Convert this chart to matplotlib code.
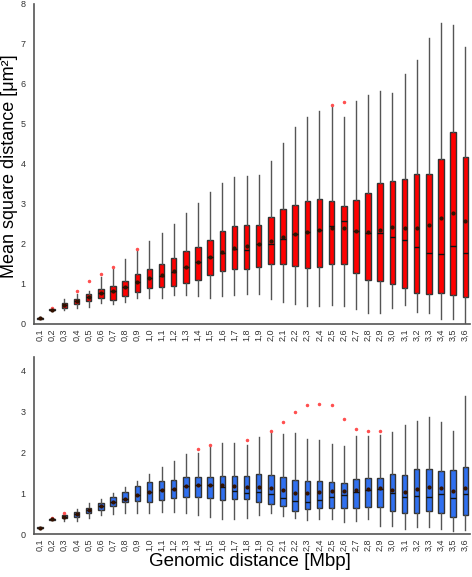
import matplotlib
matplotlib.use("Agg")
import matplotlib.pyplot as plt
import numpy as np

plt.rcParams['font.family'] = ['Liberation Sans', 'DejaVu Sans']

labels = ['0,1', '0,2', '0,3', '0,4', '0,5', '0,6', '0,7', '0,8', '0,9', '1,0',
          '1,1', '1,2', '1,3', '1,4', '1,5', '1,6', '1,7', '1,8', '1,9', '2,0',
          '2,1', '2,2', '2,3', '2,4', '2,5', '2,6', '2,7', '2,8', '2,9', '3,0',
          '3,1', '3,2', '3,3', '3,4', '3,5', '3,6']

# top panel (red)
top_lo  = [0.12, 0.33, 0.35, 0.39, 0.43, 0.53, 0.50, 0.54, 0.64, 0.64,
           0.66, 0.72, 0.72, 0.70, 0.66, 0.70, 0.72, 0.74, 0.74, 0.62,
           0.56, 0.49, 0.45, 0.45, 0.47, 0.45, 0.37, 0.28, 0.27, 0.39,
           0.47, 0.31, 0.27, 0.13, 0.12, 0.00]
top_q1  = [0.13, 0.34, 0.41, 0.50, 0.58, 0.64, 0.59, 0.71, 0.81, 0.89,
           0.92, 0.95, 1.02, 1.10, 1.22, 1.33, 1.38, 1.38, 1.42, 1.50,
           1.51, 1.45, 1.41, 1.43, 1.51, 1.49, 1.27, 1.10, 1.07, 1.01,
           0.89, 0.77, 0.74, 0.78, 0.72, 0.67]
top_med = [0.15, 0.35, 0.47, 0.57, 0.68, 0.77, 0.82, 0.93, 1.05, 1.14,
           1.19, 1.31, 1.42, 1.55, 1.67, 1.78, 1.87, 1.85, 2.00, 1.99,
           2.13, 2.25, 2.31, 2.35, 2.46, 2.58, 2.33, 2.28, 2.28, 2.17,
           2.09, 1.92, 1.77, 1.74, 1.96, 1.77]
top_q3  = [0.16, 0.37, 0.53, 0.63, 0.74, 0.87, 0.96, 1.08, 1.24, 1.38,
           1.49, 1.64, 1.83, 1.93, 2.10, 2.33, 2.46, 2.47, 2.47, 2.67,
           2.88, 2.98, 3.08, 3.13, 3.08, 2.96, 3.10, 3.28, 3.53, 3.58,
           3.63, 3.74, 3.74, 4.12, 4.81, 4.17]
top_hi  = [0.17, 0.38, 0.63, 0.74, 0.83, 1.18, 1.38, 1.63, 1.83, 2.08,
           2.27, 2.49, 2.77, 3.02, 3.29, 3.53, 3.67, 3.70, 3.73, 4.08,
           4.53, 4.93, 5.17, 5.33, 5.45, 5.17, 5.58, 5.72, 5.82, 5.77,
           6.25, 6.60, 7.16, 7.52, 7.48, 6.93]
top_mean = [0.15, 0.35, 0.47, 0.57, 0.68, 0.78, 0.83, 0.93, 1.05, 1.15,
            1.22, 1.33, 1.43, 1.56, 1.68, 1.79, 1.89, 1.95, 2.00, 2.08,
            2.17, 2.25, 2.31, 2.35, 2.40, 2.40, 2.33, 2.31, 2.35, 2.43,
            2.40, 2.40, 2.48, 2.64, 2.78, 2.58]
top_out = {1: [0.40], 3: [0.83], 4: [1.07], 5: [1.25], 6: [1.43], 8: [1.87],
           24: [5.48], 25: [5.56]}

# bottom panel (blue)
bot_lo  = [0.14, 0.35, 0.33, 0.33, 0.41, 0.46, 0.49, 0.52, 0.51, 0.51,
           0.55, 0.55, 0.51, 0.47, 0.43, 0.38, 0.37, 0.39, 0.46, 0.51,
           0.45, 0.41, 0.34, 0.37, 0.37, 0.29, 0.32, 0.38, 0.21, 0.21,
           0.14, 0.19, 0.19, 0.13, 0.07, 0.10]
bot_q1  = [0.15, 0.36, 0.39, 0.43, 0.51, 0.59, 0.70, 0.78, 0.81, 0.79,
           0.84, 0.88, 0.92, 0.90, 0.88, 0.84, 0.86, 0.86, 0.80, 0.74,
           0.68, 0.57, 0.61, 0.63, 0.63, 0.64, 0.64, 0.66, 0.66, 0.56,
           0.53, 0.52, 0.57, 0.51, 0.42, 0.47]
bot_med = [0.16, 0.37, 0.43, 0.49, 0.59, 0.70, 0.78, 0.86, 0.95, 1.03,
           1.08, 1.11, 1.17, 1.20, 1.21, 1.15, 1.06, 1.02, 1.03, 0.99,
           0.88, 0.82, 0.78, 0.83, 0.91, 0.97, 1.03, 1.08, 1.11, 1.01,
           0.90, 0.94, 0.91, 0.98, 0.89, 0.98]
bot_q3  = [0.17, 0.38, 0.47, 0.55, 0.65, 0.77, 0.90, 1.03, 1.18, 1.27,
           1.31, 1.32, 1.39, 1.39, 1.41, 1.43, 1.43, 1.43, 1.48, 1.44,
           1.39, 1.33, 1.30, 1.30, 1.27, 1.25, 1.34, 1.37, 1.37, 1.47,
           1.45, 1.59, 1.59, 1.54, 1.56, 1.65]
bot_hi  = [0.18, 0.39, 0.53, 0.61, 0.77, 0.86, 1.00, 1.15, 1.31, 1.48,
           1.65, 1.78, 1.96, 1.98, 2.15, 2.22, 2.22, 2.18, 2.37, 2.47,
           2.44, 2.47, 2.33, 2.31, 2.21, 2.15, 2.40, 2.41, 2.43, 2.49,
           2.67, 2.77, 2.86, 2.75, 2.53, 3.38]
bot_mean = [0.16, 0.37, 0.43, 0.49, 0.59, 0.70, 0.78, 0.86, 0.95, 1.03,
            1.08, 1.11, 1.17, 1.20, 1.21, 1.20, 1.17, 1.15, 1.16, 1.13,
            1.07, 1.02, 1.02, 1.04, 1.05, 1.05, 1.07, 1.10, 1.12, 1.07,
            1.04, 1.10, 1.16, 1.12, 1.06, 1.12]
bot_out = {1: [0.39], 2: [0.53], 13: [2.08], 14: [2.18], 17: [2.30], 19: [2.51],
           20: [2.74], 21: [2.98], 22: [3.16], 23: [3.18], 24: [3.15],
           25: [2.82], 26: [2.56], 27: [2.51], 28: [2.53]}


def make_stats(lo, q1, med, q3, hi, mean, out):
    stats = []
    for i in range(len(labels)):
        stats.append(dict(whislo=lo[i], q1=q1[i], med=med[i], q3=q3[i],
                          whishi=hi[i], mean=mean[i],
                          fliers=np.array(out.get(i, []))))
    return stats


def draw(ax, stats, color, ytop, yticks):
    pos = np.arange(1, len(labels) + 1)
    ax.bxp(stats, positions=pos, widths=0.45, patch_artist=True,
           showmeans=True, showcaps=False,
           boxprops=dict(facecolor=color, edgecolor='#333333', linewidth=1.0),
           medianprops=dict(color='#111111', linewidth=1.0),
           whiskerprops=dict(color='#555555', linewidth=1.0),
           meanprops=dict(marker='o', markersize=2.0, markerfacecolor='#331100',
                          markeredgecolor='#331100'),
           flierprops=dict(marker='o', markersize=1.5, markerfacecolor='#ff5050',
                           markeredgecolor='#ff5050'))
    ax.set_xlim(0.5, 36.4)
    ax.set_ylim(0, ytop)
    ax.set_yticks(yticks)
    ax.set_xticks(pos)
    ax.set_xticklabels(labels, rotation=90)
    ax.tick_params(axis='both', length=0, labelsize=6.5, labelcolor='#333333')
    ax.tick_params(axis='x', pad=3)
    ax.tick_params(axis='y', pad=6)
    for s in ['top', 'right']:
        ax.spines[s].set_visible(False)
    for s in ['left', 'bottom']:
        ax.spines[s].set_color('#555555')
        ax.spines[s].set_linewidth(1.2)


fig = plt.figure(figsize=(4.72, 5.77), dpi=100)
ax1 = fig.add_axes([0.072, 0.4385, 0.924, 0.5546])
ax2 = fig.add_axes([0.072, 0.074, 0.924, 0.3074])

draw(ax1, make_stats(top_lo, top_q1, top_med, top_q3, top_hi, top_mean, top_out),
     '#ff0000', 8, range(0, 9))
draw(ax2, make_stats(bot_lo, bot_q1, bot_med, bot_q3, bot_hi, bot_mean, bot_out),
     '#3070f0', 4.33, range(0, 5))

fig.text(0.021, 0.712, 'Mean square distance [\u03bcm\u00b2]', rotation=90,
         ha='center', va='center', fontsize=13)
fig.text(0.53, 0.026, 'Genomic distance [Mbp]', ha='center', va='center',
         fontsize=13.5)

fig.savefig('out.png', dpi=100)
